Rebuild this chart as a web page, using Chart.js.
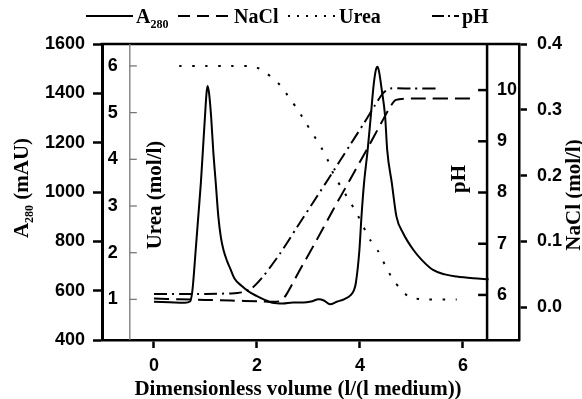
<!DOCTYPE html>
<html>
<head>
<meta charset="utf-8">
<script src="https://cdn.jsdelivr.net/npm/chart.js@4"></script>
<style>
  html, body { margin: 0; padding: 0; background: #fff; }
  canvas { display: block; }
</style>
</head>
<body>
<canvas id="chart" width="582" height="399"></canvas>
<script>
// values
const xA280 = [0, 0.3, 0.6, 0.7, 0.74, 0.76, 0.81, 0.86, 0.91, 0.95, 0.99, 1.02, 1.04, 1.07, 1.11, 1.15, 1.2, 1.25, 1.3, 1.35, 1.42, 1.48, 1.56, 1.7, 1.85, 2.0, 2.15, 2.3, 2.5, 2.7, 2.9, 3.05, 3.2, 3.3, 3.42, 3.55, 3.7, 3.82, 3.88, 3.92, 3.99, 4.03, 4.08, 4.15, 4.21, 4.27, 4.31, 4.34, 4.37, 4.42, 4.49, 4.53, 4.62, 4.71, 4.84, 5.04, 5.2, 5.42, 5.65, 5.88, 6.2, 6.5];
const a280 = [555, 553, 551, 556, 590, 630, 765, 900, 1036, 1170, 1305, 1400, 1430, 1400, 1305, 1170, 1036, 900, 815, 765, 720, 690, 650, 620, 595, 578, 563, 551, 548, 552, 552, 556, 565, 560, 545, 555, 566, 582, 600, 630, 765, 900, 1036, 1170, 1305, 1440, 1495, 1508, 1490, 1420, 1305, 1170, 1036, 900, 833, 765, 725, 684, 666, 657, 650, 646];

const xNacl = [0, 0.5, 1.0, 1.5, 2.0, 2.45, 2.57, 2.83, 3.16, 3.48, 3.81, 4.13, 4.45, 4.6, 4.7, 5.0, 6.17];
const nacl = [0.013, 0.012, 0.011, 0.010, 0.009, 0.009, 0.019, 0.056, 0.102, 0.148, 0.194, 0.239, 0.285, 0.306, 0.315, 0.317, 0.317];

const xUrea = [0.49, 1.0, 1.5, 1.96, 2.19, 2.45, 2.64, 2.8, 2.95, 3.1, 3.26, 3.39, 3.48, 3.62, 3.77, 3.94, 4.07, 4.2, 4.36, 4.49, 4.65, 4.81, 4.93, 5.04, 5.3, 5.88];
const urea = [6.0, 6.0, 6.0, 5.98, 5.84, 5.59, 5.30, 5.05, 4.78, 4.52, 4.23, 3.95, 3.70, 3.43, 3.16, 2.84, 2.55, 2.27, 2.02, 1.73, 1.41, 1.2, 1.07, 1.02, 1.0, 1.0];

const xPh = [0, 0.5, 1.0, 1.5, 1.7, 1.9, 2.12, 2.45, 2.77, 3.1, 3.39, 3.81, 4.07, 4.29, 4.45, 4.58, 5.0, 5.55];
const ph = [6.02, 6.02, 6.02, 6.03, 6.05, 6.13, 6.36, 6.81, 7.31, 7.82, 8.27, 8.93, 9.34, 9.7, 9.94, 10.03, 10.03, 10.03];

const xTicks = [0, 2, 4, 6];
const a280Ticks = [400, 600, 800, 1000, 1200, 1400, 1600];
const ureaTicks = [1, 2, 3, 4, 5, 6];
const phTicks = [6, 7, 8, 9, 10];
const naclTicks = [0.0, 0.1, 0.2, 0.3, 0.4];

function pts(xs, ys) {
  return xs.map((x, i) => ({x: x, y: ys[i]}));
}

const numFont = {family: "'Liberation Sans', Arial, sans-serif", size: 18, weight: 'bold'};
const numFontStr = "bold 18px 'Liberation Sans', Arial, sans-serif";
const titleFont = "bold 21px 'Liberation Serif', 'Times New Roman', serif";
const legendFont = "bold 20px 'Liberation Serif', 'Times New Roman', serif";
const subFont = "bold 12px 'Liberation Serif', 'Times New Roman', serif";

function seg(ctx, x1, y1, x2, y2) {
  ctx.beginPath();
  ctx.moveTo(x1, y1);
  ctx.lineTo(x2, y2);
  ctx.stroke();
}

// rotated title, centred on cy, baseline at cx
function vText(ctx, parts, cx, cy) {
  ctx.save();
  ctx.translate(cx, cy);
  ctx.rotate(-Math.PI / 2);
  let w = 0;
  parts.forEach(p => { ctx.font = p.font; w += ctx.measureText(p.t).width; });
  let x = -w / 2;
  ctx.textAlign = 'left';
  ctx.textBaseline = 'alphabetic';
  parts.forEach(p => {
    ctx.font = p.font;
    ctx.fillText(p.t, x, p.dy || 0);
    x += ctx.measureText(p.t).width;
  });
  ctx.restore();
}

const extras = {
  id: 'extras',
  afterDraw(chart) {
    const ctx = chart.ctx;
    const ca = chart.chartArea;
    const s = chart.scales;
    ctx.save();
    ctx.fillStyle = '#000';
    ctx.strokeStyle = '#000';

    // top frame line
    ctx.lineWidth = 2.5;
    seg(ctx, ca.left - 1.5, ca.top, ca.right + 1.2, ca.top);

    // urea axis (grey, inside the plot)
    const ux = s.x.getPixelForValue(-0.47);
    ctx.strokeStyle = '#777';
    ctx.lineWidth = 1.3;
    seg(ctx, ux, ca.top, ux, ca.bottom);
    ctx.font = numFontStr;
    ctx.textAlign = 'right';
    ctx.textBaseline = 'middle';
    ureaTicks.forEach(v => {
      const y = s.yU.getPixelForValue(v);
      seg(ctx, ux, y, ux + 7, y);
      ctx.fillText(String(v), ux - 12, y);
    });

    // pH axis
    const px = s.x.getPixelForValue(6.47);
    ctx.strokeStyle = '#000';
    ctx.lineWidth = 2.5;
    seg(ctx, px, ca.top, px, ca.bottom);
    ctx.textAlign = 'left';
    phTicks.forEach(v => {
      const y = s.yP.getPixelForValue(v);
      seg(ctx, px, y, px - 9, y);
      ctx.fillText(String(v), px + 10, y);
    });

    // axis titles
    vText(ctx, [{t: 'A', font: titleFont}, {t: '280', font: subFont, dy: 5}, {t: ' (mAU)', font: titleFont}], 28, 188);
    vText(ctx, [{t: 'Urea (mol/l)', font: titleFont}], 161, 195);
    vText(ctx, [{t: 'pH', font: titleFont}], 465, 179);
    vText(ctx, [{t: 'NaCl (mol/l)', font: titleFont}], 580, 195);
    ctx.font = titleFont;
    ctx.textAlign = 'center';
    ctx.textBaseline = 'alphabetic';
    ctx.fillText('Dimensionless volume (l/(l medium))', 298, 395);

    // legend
    const items = [
      {label: 'A', sub: '280', dash: [], x1: 86, x2: 133},
      {label: 'NaCl', dash: [12, 7], x1: 178, x2: 231},
      {label: 'Urea', dash: [2, 7], x1: 288, x2: 336},
      {label: 'pH', dash: [12, 4, 2, 4], x1: 432, x2: 459}
    ];
    ctx.textAlign = 'left';
    items.forEach(it => {
      ctx.lineWidth = 2;
      ctx.setLineDash(it.dash);
      seg(ctx, it.x1, 16, it.x2, 16);
      ctx.setLineDash([]);
      ctx.font = legendFont;
      ctx.fillText(it.label, it.x2 + 3, 23);
      if (it.sub) {
        const w = ctx.measureText(it.label).width;
        ctx.font = subFont;
        ctx.fillText(it.sub, it.x2 + 3 + w, 28);
      }
    });
    ctx.restore();
  }
};

function line(data, axis, dash, monotone) {
  return {
    data: data,
    yAxisID: axis,
    borderColor: '#000',
    borderWidth: 2,
    borderDash: dash,
    pointRadius: 0,
    fill: false,
    tension: 0.25,
    cubicInterpolationMode: monotone ? 'monotone' : 'default'
  };
}

const gridOpts = {drawOnChartArea: false, tickColor: '#000', tickWidth: 2.5};

new Chart(document.getElementById('chart').getContext('2d'), {
  type: 'line',
  data: {
    datasets: [
      line(pts(xA280, a280), 'yA', [], true),
      line(pts(xNacl, nacl), 'yN', [15, 7]),
      line(pts(xUrea, urea), 'yU', [2.5, 10.5]),
      line(pts(xPh, ph), 'yP', [13, 5, 2, 5])
    ]
  },
  options: {
    responsive: false,
    animation: false,
    events: [],
    layout: {padding: {top: 44, left: 0, right: 0, bottom: 0}},
    plugins: {legend: {display: false}, tooltip: {enabled: false}},
    scales: {
      x: {
        type: 'linear', min: -1.01, max: 7.09,
        afterBuildTicks: sc => { sc.ticks = xTicks.map(v => ({value: v})); },
        afterFit: sc => { sc.height = 59; },
        grid: Object.assign({tickLength: 8}, gridOpts),
        border: {display: true, color: '#000', width: 2.5},
        ticks: {font: numFont, color: '#000', padding: 7, maxRotation: 0, callback: v => String(v)}
      },
      yA: {
        position: 'left', min: 400, max: 1600,
        afterBuildTicks: sc => { sc.ticks = a280Ticks.map(v => ({value: v})); },
        afterFit: sc => { sc.width = 102; },
        grid: Object.assign({tickLength: 9}, gridOpts),
        border: {display: true, color: '#000', width: 3},
        ticks: {font: numFont, color: '#000', padding: 8, callback: v => String(v)}
      },
      yN: {
        position: 'right', min: -0.05, max: 0.4,
        afterBuildTicks: sc => { sc.ticks = naclTicks.map(v => ({value: v})); },
        afterFit: sc => { sc.width = 63; },
        grid: Object.assign({tickLength: 8}, gridOpts),
        border: {display: true, color: '#000', width: 2.5},
        ticks: {font: numFont, color: '#000', padding: 10, callback: v => v.toFixed(1)}
      },
      yU: {display: false, min: 0.13, max: 6.47},
      yP: {display: false, min: 5.12, max: 10.9}
    }
  },
  plugins: [extras]
});
</script>
</body>
</html>
